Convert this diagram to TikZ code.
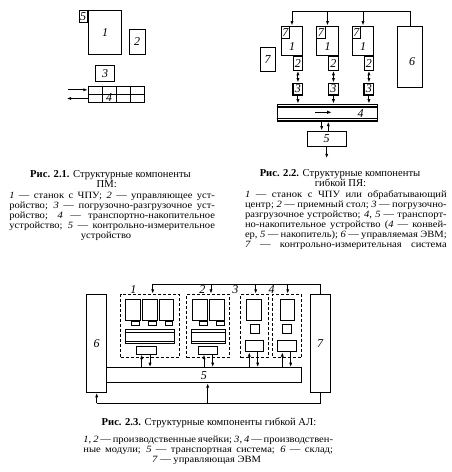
\documentclass[tikz,border=0pt]{standalone}
\usepackage{fontspec}
\setmainfont{Liberation Serif}
\newfontfamily\capfam[FakeStretch=1.1]{Liberation Serif}
\usetikzlibrary{arrows.meta,calc}
\newcommand\capfont{\capfam\fontsize{9.6}{10}\selectfont}
\newcommand\ttlfont{\fontsize{10.6}{11}\selectfont}
\newcommand\numfont{\fontsize{12}{12}\selectfont\itshape}
\newcommand\jline[2]{\makebox[#1pt][s]{#2}}
\begin{document}
\begin{tikzpicture}[x=1pt,y=-1pt,
  box/.style={draw,line width=1pt,inner sep=0pt,font=\numfont},
  hbox/.style={box,line width=1.4pt},
  dbox/.style={draw,line width=1pt,inner sep=0pt,dash pattern=on 3pt off 2pt},
  lin/.style={line width=1pt},
  arr/.style={line width=1pt,-{Latex[length=4.5pt,width=3.2pt]}},
  darr/.style={line width=1pt,{Latex[length=4.5pt,width=3.2pt]}-{Latex[length=4.5pt,width=3.2pt]}},
  lab/.style={font=\numfont,inner sep=0pt},
  captxt/.style={anchor=base,inner sep=0pt,font=\capfont},
  ttltxt/.style={anchor=base,inner sep=0pt,font=\ttlfont},
]
\fill[white] (0,0) rectangle (451,472);
\useasboundingbox (0,0) rectangle (451,472);

% ---------------- Fig 2.1 ----------------
\node[box,minimum width=33.4pt,minimum height=43.6pt] (f1m) at (105,32.5) {1};
\node[box,minimum width=8.3pt,minimum height=12pt,anchor=north east] (f1k) at (f1m.north west) {5};
\node[box,minimum width=15.7pt,minimum height=25pt] (f1u) at (137.15,41.8) {2};
\node[box,minimum width=18.6pt,minimum height=15.3pt] (f1l) at (105,73.35) {3};
\node[box,minimum width=56pt,minimum height=16.7pt] (f1t) at (116.3,94.35) {};
\draw[lin] (f1t.west) -- (f1t.east);
\foreach \dx in {14.4,28.4,42.4}{
  \draw[lin] ($(f1t.north west)+(\dx,0)$) -- ($(f1t.south west)+(\dx,0)$);
}
\node[lab] (f1tl) at (109,98) {4};
\coordinate (f1a) at (67.5,89.8);
\coordinate (f1b) at (66.7,98.5);
\draw[arr] (f1a) -- (f1a -| f1t.west);
\draw[arr] (f1b -| f1t.west) -- (f1b);

% ---------------- Fig 2.2 ----------------
\coordinate (bus) at (0,11);
\foreach \i/\x in {1/292,2/327.5,3/363}{
  \node[box,minimum width=21.5pt,minimum height=29.7pt] (m\i) at (\x,40.85) {};
  \node[box,minimum width=8.3pt,minimum height=12.3pt,anchor=north west] (k\i) at (m\i.north west) {7};
  \node[lab] (n\i) at ($(m\i.center)+(0,5.8)$) {1};
  \node[box,minimum width=9.6pt,minimum height=13.6pt,anchor=north east] (p\i) at (m\i.south east) {2};
  \node[hbox,minimum width=9.6pt,minimum height=11.7pt,anchor=north] (z\i) at ($(p\i.south)+(0,11.7)$) {3};
  \draw[darr] (p\i.south) -- (z\i.north);
}
\node[box,minimum width=100pt,minimum height=16.7pt,line width=1.3pt] (cv) at (327.3,112.65) {};
\draw[line width=1.3pt] ($(cv.north west)+(0,3.4)$) -- ($(cv.north east)+(0,3.4)$);
\draw[line width=1.3pt] ($(cv.south west)+(0,-3.4)$) -- ($(cv.south east)+(0,-3.4)$);
\foreach \i in {1,2,3}{
  \draw[arr] (z\i.south) -- (z\i.south |- cv.north);
}
\coordinate (cva) at (315,112.3);
\coordinate (cvb) at (331.7,112.3);
\draw[line width=1.4pt,-{Latex[length=4.5pt,width=3.4pt]}] (cva) -- (cvb);
\node[lab] (cvl) at (360.7,113.3) {4};
\node[box,minimum width=38.7pt,minimum height=15pt] (s5) at (326.65,138.5) {5};
\coordinate (q1) at (321.7,0);
\coordinate (q2) at (328.3,0);
\draw[arr] (q1 |- cv.south) -- (q1 |- s5.north);
\draw[arr] (q2 |- s5.north) -- (q2 |- cv.south);
\coordinate (s5o) at (326.7,158.3);
\draw[arr] (s5o |- s5.south) -- (s5o);
\node[box,minimum width=25.4pt,minimum height=61.7pt] (e6) at (410,56.85) {};
\node[lab] (e6l) at (412,61.7) {6};
\draw[lin] (e6.north) -- (e6.north |- bus) -- (m1.north |- bus);
\foreach \i in {1,2,3}{
  \draw[arr] (m\i.north |- bus) -- (m\i.north);
}
\node[box,minimum width=15pt,minimum height=23.3pt] (e7) at (267.5,59.35) {7};

% ---------------- Fig 2.3 ----------------
\node[box,minimum width=20pt,minimum height=98pt] (g6) at (96.7,343.3) {6};
\node[box,minimum width=20pt,minimum height=98pt] (g7) at (320,343.3) {7};
\node[box,minimum width=194.3pt,minimum height=15pt] (g5) at (203.85,375.2) {5};
\node[dbox,minimum width=58.6pt,minimum height=63.4pt] (d1) at (150,326) {};
\node[dbox,minimum width=42.6pt,minimum height=63.4pt] (d2) at (208,326) {};
\node[dbox,minimum width=27.6pt,minimum height=63.4pt] (d3) at (254.5,326) {};
\node[dbox,minimum width=29pt,minimum height=63.4pt] (d4) at (287.2,326) {};
\node[lab] (dl1) at (133.3,290) {1};
\node[lab] (dl2) at (202.3,290) {2};
\node[lab] (dl3) at (235.3,289.3) {3};
\node[lab] (dl4) at (271.7,289.3) {4};
% top line
\coordinate (top) at (0,284);
\coordinate (t1) at (152.7,284);
\coordinate (t2) at (211,284);
\coordinate (t3) at (255.7,284);
\coordinate (t4) at (287.7,284);
\draw[lin] (t1) -- (g7.north |- top) -- (g7.north);
\draw[arr] (t1) -- (t1 |- d1.north);
\draw[arr] (t2) -- (t2 |- d2.north);
\draw[arr] (t3) -- (t3 |- d3.north);
\draw[arr] (t4) -- (t4 |- d4.north);
% bottom line
\coordinate (bot) at (0,403.3);
\coordinate (bm) at (207.7,403.3);
\draw[lin] (g6.south |- bot) -- (g7.south |- bot) -- (g7.south);
\draw[arr] (g6.south |- bot) -- (g6.south);
\draw[arr] (bm) -- (bm |- g5.south);
% cell 1
\foreach \j/\x in {1/132.85,2/150,3/166.3}{
  \node[box,minimum width=14.3pt,minimum height=20.7pt] (a\j) at (\x,309.65) {};
  \node[box,minimum width=7.6pt,minimum height=4.3pt,anchor=north east] (as\j) at ($(a\j.south east)+(-0.7,0)$) {};
}
\node[box,minimum width=49pt,minimum height=14pt] (ac) at (149.5,336.3) {};
\draw[lin] ($(ac.north west)+(0,3.4)$) -- ($(ac.north east)+(0,3.4)$);
\draw[lin] ($(ac.south west)+(0,-2.6)$) -- ($(ac.south east)+(0,-2.6)$);
\node[box,minimum width=20pt,minimum height=8pt] (ab) at (146.7,350) {};
% cell 2
\foreach \j/\x in {1/200,2/217}{
  \node[box,minimum width=14.5pt,minimum height=20.7pt] (b\j) at (\x,309.65) {};
  \node[box,minimum width=7.3pt,minimum height=4.3pt,anchor=north east] (bs\j) at (b\j.south east) {};
}
\node[box,minimum width=33.3pt,minimum height=14pt] (bc) at (208.35,336.3) {};
\draw[lin] ($(bc.north west)+(0,3.4)$) -- ($(bc.north east)+(0,3.4)$);
\draw[lin] ($(bc.south west)+(0,-2.6)$) -- ($(bc.south east)+(0,-2.6)$);
\node[box,minimum width=19pt,minimum height=8pt] (bb) at (207.8,350) {};
% cell 3
\node[box,minimum width=15pt,minimum height=20.7pt] (c1) at (254.2,309.65) {};
\node[box,minimum width=9.3pt,minimum height=9.3pt] (cs) at (254.65,328.65) {};
\node[box,minimum width=18.3pt,minimum height=11.7pt] (cb) at (254.15,345.85) {};
% cell 4
\node[box,minimum width=14.3pt,minimum height=20.7pt] (h1) at (287.15,309.65) {};
\node[box,minimum width=9pt,minimum height=9.3pt] (hs) at (287.2,328.65) {};
\node[box,minimum width=19pt,minimum height=11.7pt] (hb) at (287.2,345.85) {};
% arrows to transport system
\foreach \u/\d/\n in {141.7/150/ab,204/212.7/bb,249.3/257.7/cb,282.3/290.7/hb}{
  \coordinate (uu) at (\u,0);
  \coordinate (dd) at (\d,0);
  \draw[arr] (uu |- g5.north) -- (uu |- \n.south);
  \draw[arr] (dd |- \n.south) -- (dd |- g5.north);
}

% ---------------- Captions ----------------
\node[ttltxt] (c1t) at (110.5,177.5) {\textbf{Рис. 2.1.} Структурные компоненты};
\node[ttltxt] (c1u) at (106.7,187.5) {ПМ:};
\node[captxt] (c1a) at (112.15,198.4) {\jline{205.7}{\textit{1} — станок с ЧПУ; \textit{2} — управляющее уст-}};
\node[captxt] (c1b) at (112.15,208.4) {\jline{205.7}{ройство; \textit{3} — погрузочно-разгрузочное уст-}};
\node[captxt] (c1c) at (112.15,218.4) {\jline{205.7}{ройство; \textit{4} — транспортно-накопительное}};
\node[captxt] (c1d) at (112.15,228.4) {\jline{205.7}{устройство; \textit{5} — контрольно-измерительное}};
\node[captxt] (c1e) at (106,238.4) {устройство};

\node[ttltxt] (c2t) at (340,176.5) {\textbf{Рис. 2.2.} Структурные компоненты};
\node[ttltxt] (c2u) at (340.5,186.5) {гибкой ПЯ:};
\node[captxt] (c2a) at (345.85,197.7) {\jline{201.7}{\textit{1} — станок с ЧПУ или обрабатывающий}};
\node[captxt] (c2b) at (345.85,207.7) {\jline{201.7}{центр; \textit{2} — приемный стол; \textit{3} — погрузочно-}};
\node[captxt] (c2c) at (345.85,217.7) {\jline{201.7}{разгрузочное устройство; \textit{4}, \textit{5} — транспорт-}};
\node[captxt] (c2d) at (345.85,227.7) {\jline{201.7}{но-накопительное устройство (\textit{4} — конвей-}};
\node[captxt] (c2e) at (345.85,237.7) {\jline{201.7}{ер, \textit{5} — накопитель); \textit{6} — управляемая ЭВМ;}};
\node[captxt] (c2f) at (345.85,247.7) {\jline{201.7}{\textit{7} — контрольно-измерительная система}};

\node[ttltxt] (c3t) at (209,425.5) {\textbf{Рис. 2.3.} Структурные компоненты гибкой АЛ:};
\node[captxt] (c3a) at (208.2,442) {\jline{249.7}{\textit{1}, \textit{2} — производственные ячейки; \textit{3}, \textit{4} — производствен-}};
\node[captxt] (c3b) at (208.2,452) {\jline{249.7}{ные модули; \textit{5} — транспортная система; \textit{6} — склад;}};
\node[captxt] (c3c) at (206.5,462) {\textit{7} — управляющая ЭВМ};
\end{tikzpicture}
\end{document}
